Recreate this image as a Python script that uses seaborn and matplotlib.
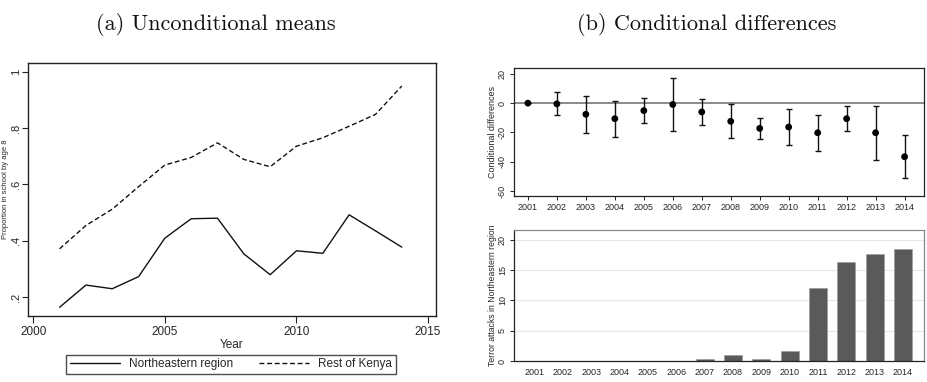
import matplotlib
matplotlib.use("Agg")
import matplotlib.pyplot as plt
import seaborn as sns
import numpy as np
import pandas as pd
from matplotlib.lines import Line2D

# ---- data ----
years = [2001, 2002, 2003, 2004, 2005, 2006, 2007, 2008, 2009, 2010, 2011, 2012, 2013, 2014]
northeastern = [0.163, 0.242, 0.229, 0.272, 0.409, 0.478, 0.480, 0.353, 0.279, 0.364, 0.355, 0.492, 0.435, 0.377]
rest_kenya = [0.371, 0.454, 0.512, 0.592, 0.669, 0.696, 0.748, 0.689, 0.663, 0.736, 0.766, 0.807, 0.849, 0.950]

cond_diff = [0.0, -0.5, -7.6, -10.6, -5.1, -0.9, -6.0, -12.4, -17.2, -16.3, -20.2, -10.6, -20.2, -36.6]
ci_upper = [0.0, 7.8, 5.1, 1.8, 3.2, 17.5, 2.5, -0.9, -10.1, -3.9, -8.0, -1.8, -1.8, -21.6]
ci_lower = [0.0, -8.3, -20.2, -23.4, -13.3, -19.1, -14.7, -23.7, -24.6, -28.5, -32.4, -19.3, -38.9, -51.3]

attacks = [0, 0, 0, 0, 0, 0, 0.33, 1.0, 0.33, 1.65, 12.07, 16.4, 17.7, 18.46]

left_yticks = [0.2, 0.4, 0.6, 0.8, 1.0]
left_yticklabels = [".2", ".4", ".6", ".8", "1"]
left_xticks = [2000, 2005, 2010, 2015]

# ---- style ----
sns.set_theme(style="white")
plt.rcParams['font.family'] = ['Liberation Sans', 'DejaVu Sans']

fig = plt.figure(figsize=(9.28, 3.82), dpi=100)

frame_col = "#222222"

# ---- left panel ----
axL = fig.add_axes([28/928, 1-316/382, 408/928, 253/382])
dfL = pd.DataFrame({
    "Year": years * 2,
    "value": northeastern + rest_kenya,
    "group": ["Northeastern region"] * len(years) + ["Rest of Kenya"] * len(years),
})
sns.lineplot(data=dfL, x="Year", y="value", hue="group", style="group",
             palette=["#111111", "#111111"], dashes=[(None, None), (3.5, 2)],
             linewidth=1.0, ax=axL, legend=False)
axL.set_xlim(1999.8, 2015.3)
axL.set_ylim(0.132, 1.032)
axL.set_xticks(left_xticks)
axL.set_yticks(left_yticks)
axL.set_yticklabels(left_yticklabels, rotation=90, va="center")
axL.tick_params(axis="x", labelsize=8.5, length=5, width=0.8, color=frame_col,
                direction="out", bottom=True, pad=2)
axL.tick_params(axis="y", labelsize=8, length=4, width=0.8, color=frame_col,
                direction="out", left=True, pad=1)
axL.set_xlabel("Year", fontsize=8.5, labelpad=1)
axL.set_ylabel("Proportion in school by age 8", fontsize=5.5)
axL.yaxis.set_label_coords(-0.0455, 0.5)
for s in axL.spines.values():
    s.set_color(frame_col)
    s.set_linewidth(1.0)

handles = [Line2D([], [], color="#111111", lw=1.0),
           Line2D([], [], color="#111111", lw=1.0, ls=(0, (3.5, 2)))]
leg = fig.legend(handles, ["Northeastern region", "Rest of Kenya"], ncol=2,
                 loc="center", bbox_to_anchor=(231/928, 1-364.5/382), fontsize=8.5,
                 frameon=True, fancybox=False, edgecolor=frame_col,
                 handlelength=4.2, columnspacing=2.2, borderpad=0.3)
leg.get_frame().set_linewidth(1.0)

# ---- top right panel ----
axT = fig.add_axes([514/928, 1-196/382, 410/928, 128/382])
axT.axhline(0, color="#777777", lw=1.2, zorder=1)
yerr = [np.array(cond_diff) - np.array(ci_lower), np.array(ci_upper) - np.array(cond_diff)]
axT.errorbar(years, cond_diff, yerr=yerr, fmt="none", ecolor="#111111",
             elinewidth=1.0, capsize=2, capthick=1.0, zorder=2)
sns.scatterplot(x=years, y=cond_diff, color="#000000", s=24, edgecolor="none",
                ax=axT, zorder=3)
axT.set_xlim(2000.52, 2014.67)
axT.set_ylim(-63.4, 24)
axT.set_xticks(years)
axT.set_yticks([-60, -40, -20, 0, 20])
axT.set_yticklabels(["-60", "-40", "-20", "0", "20"], rotation=90, va="center")
axT.tick_params(axis="both", labelsize=6.5, length=3, width=0.7, color=frame_col,
                direction="out", bottom=True, left=True, pad=2)
axT.set_ylabel("Conditional differences", fontsize=6.5, labelpad=1)
for s in axT.spines.values():
    s.set_color(frame_col)
    s.set_linewidth(0.9)

# ---- bottom right panel ----
axB = fig.add_axes([514/928, 1-361/382, 410/928, 131/382])
axB.set_axisbelow(True)
axB.yaxis.grid(True, color="#e6e6e6", lw=0.8)
dfB = pd.DataFrame({"year": [str(y) for y in years], "attacks": attacks})
sns.barplot(data=dfB, x="year", y="attacks", color="#5a5a5a", saturation=1,
            width=0.64, edgecolor="#9a9a9a", linewidth=0.4, ax=axB)
axB.set_xlim(-0.73, 13.74)
axB.set_ylim(0, 21.65)
axB.set_yticks([0, 5, 10, 15, 20])
axB.set_yticklabels(["0", "5", "10", "15", "20"], rotation=90, va="center")
axB.tick_params(axis="both", labelsize=6.5, length=3, width=0.7, color=frame_col,
                direction="out", bottom=False, left=True, pad=2)
axB.set_xlabel("")
axB.set_ylabel("Terror attacks in Northeastern region", fontsize=6.2, labelpad=1)
for s in axB.spines.values():
    s.set_color(frame_col)
    s.set_linewidth(0.9)
axB.spines["right"].set_color("#888888")
axB.spines["top"].set_color("#888888")

# ---- titles ----
fig.text(216/928, 1-25/382, "(a) Unconditional means", family="cmr10",
         fontsize=16, ha="center", va="center", color="#111111")
fig.text(707/928, 1-25/382, "(b) Conditional differences", family="cmr10",
         fontsize=16, ha="center", va="center", color="#111111")

fig.savefig("out.png", dpi=100, facecolor="white")
